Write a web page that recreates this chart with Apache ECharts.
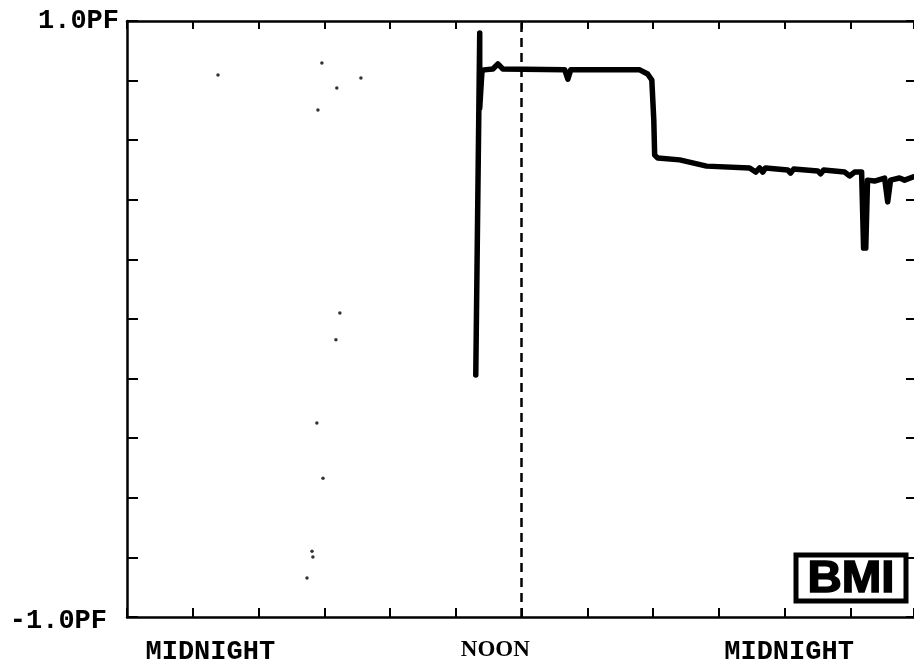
<!DOCTYPE html>
<html>
<head>
<meta charset="utf-8">
<script src="https://cdn.jsdelivr.net/npm/echarts@6/dist/echarts.min.js"></script>
<style>
html,body{margin:0;padding:0;background:#fff;}
#chart{width:914px;height:668px;}
</style>
</head>
<body>
<div id="chart"></div>
<script>
// Time axis in hours since the left edge of the plot (18:00 of day 0); ticks every 3 h.
const xLabels = ['MIDNIGHT', 'NOON', 'MIDNIGHT'];
const xLabelAt = [3.8, 16.8, 30.2];
const noonHour = 18;
const yLabels = {'1': '1.0PF', '-1': '-1.0PF'};

// Main trace (hours, PF)
const traceHours = [15.91, 16.09, 16.09, 16.19, 16.28, 16.69, 16.92, 17.14, 19.97, 20.11, 20.24,
  23.39, 23.75, 23.94, 24.03, 24.07, 24.21, 25.21, 26.44, 28.40, 28.68, 28.86, 29.00, 29.13,
  30.14, 30.27, 30.41, 31.51, 31.64, 31.78, 32.74, 32.96, 33.19, 33.51, 33.60, 33.70, 33.78,
  34.10, 34.56, 34.70, 34.83, 35.24, 35.47, 35.88];
const tracePF = [-0.188, 0.960, 0.708, 0.829, 0.836, 0.839, 0.856, 0.839, 0.836, 0.805, 0.836,
  0.836, 0.822, 0.802, 0.668, 0.550, 0.540, 0.534, 0.513, 0.507, 0.493, 0.507, 0.493, 0.507,
  0.500, 0.490, 0.503, 0.497, 0.487, 0.500, 0.493, 0.480, 0.493, 0.493, 0.238, 0.238, 0.466,
  0.463, 0.473, 0.393, 0.466, 0.473, 0.466, 0.477];

// Stray specks in the scan
const speckHours = [4.15, 8.89, 8.71, 9.57, 10.67, 9.71, 9.53, 8.66, 8.94, 8.44, 8.48, 8.21];
const speckPF = [0.819, 0.859, 0.701, 0.775, 0.809, 0.020, -0.070, -0.349, -0.534, -0.779, -0.799, -0.869];

const traceData = traceHours.map((h, i) => [h, tracePF[i]]);
const speckData = speckHours.map((h, i) => [h, speckPF[i]]);

const chart = echarts.init(document.getElementById('chart'));
const axisLine = {show: true, onZero: false, lineStyle: {color: '#000', width: 2.5}};
const X_MAX = 35.9;
chart.setOption({
  backgroundColor: '#fff',
  animation: false,
  grid: {left: 127, right: 0, top: 21, bottom: 51, containLabel: false},
  xAxis: [
    {
      type: 'value', position: 'bottom', min: 0, max: X_MAX, interval: 3,
      axisLine: axisLine,
      axisTick: {show: true, inside: true, length: 9, lineStyle: {color: '#000', width: 2}},
      splitLine: {show: false},
      axisLabel: {
        show: true, customValues: xLabelAt, margin: 22,
        formatter: function (v) {
          const i = xLabelAt.indexOf(v);
          const t = i >= 0 ? xLabels[i] : '';
          return t === 'NOON' ? '{n|' + t + '}' : '{m|' + t + '}';
        },
        rich: {
          m: {fontFamily: 'Liberation Mono', fontWeight: 'bold', fontSize: 27, color: '#000'},
          n: {fontFamily: 'Liberation Serif', fontWeight: 'bold', fontSize: 23, color: '#000'}
        }
      }
    },
    {
      type: 'value', position: 'top', min: 0, max: X_MAX, interval: 3,
      axisLine: axisLine,
      axisTick: {show: true, inside: true, length: 8, lineStyle: {color: '#000', width: 2}},
      splitLine: {show: false},
      axisLabel: {show: false}
    }
  ],
  yAxis: [
    {
      type: 'value', position: 'left', min: -1, max: 1, interval: 0.2,
      axisLine: axisLine,
      axisTick: {show: true, inside: true, length: 11, lineStyle: {color: '#000', width: 2}},
      splitLine: {show: false},
      axisLabel: {
        show: true, customValues: [-1, 1], margin: 8,
        formatter: function (v) {
          return v > 0 ? '{a|' + yLabels['1'] + '}' : '{b|' + yLabels['-1'] + '}';
        },
        rich: {
          a: {fontFamily: 'Liberation Mono', fontWeight: 'bold', fontSize: 27, color: '#000'},
          b: {fontFamily: 'Liberation Mono', fontWeight: 'bold', fontSize: 27, color: '#000', padding: [8, 12, 0, 0]}
        }
      }
    },
    {
      type: 'value', position: 'right', min: -1, max: 1, interval: 0.2,
      axisLine: {show: false, onZero: false},
      axisTick: {show: true, inside: true, length: 8, lineStyle: {color: '#000', width: 2}},
      splitLine: {show: false},
      axisLabel: {show: false}
    }
  ],
  series: [
    {
      type: 'line', data: traceData, showSymbol: false, symbol: 'none',
      lineStyle: {color: '#000', width: 5.5, join: 'round', cap: 'round'},
      z: 3,
      markLine: {
        silent: true, symbol: ['none', 'none'], label: {show: false},
        lineStyle: {color: '#000', width: 2.5, type: [9, 6]},
        data: [{xAxis: noonHour}]
      }
    },
    {
      type: 'scatter', data: speckData, symbolSize: 3.5,
      itemStyle: {color: '#000'}, z: 2
    }
  ],
  graphic: [
    {
      type: 'group', z: 10,
      children: [
        {type: 'rect', shape: {x: 796, y: 555, width: 110, height: 46},
         style: {fill: '#fff', stroke: '#000', lineWidth: 5}},
        {type: 'text', x: 851, y: 580, scaleX: 1.08,
         style: {text: 'BMI', fontFamily: 'Liberation Sans', fontWeight: 900, fontSize: 44,
                 fill: '#000', stroke: '#000', lineWidth: 1.5, align: 'center', verticalAlign: 'middle'}}
      ]
    }
  ]
});
</script>
</body>
</html>
